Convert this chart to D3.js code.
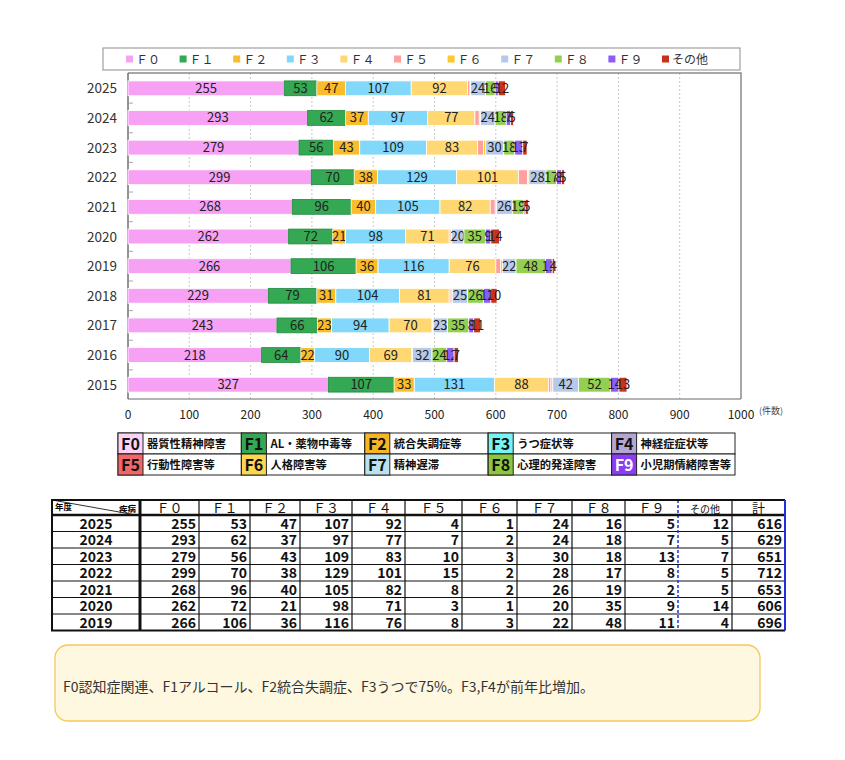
<!DOCTYPE html>
<html>
<head>
<meta charset="utf-8">
<script src="https://cdn.jsdelivr.net/npm/d3@7"></script>
<style>
  body { margin: 0; background: #fff; }
  svg { display: block; font-family: "Noto Sans CJK JP", "Noto Sans", sans-serif; }
</style>
</head>
<body>
<svg id="chart" width="845" height="760"></svg>
<script>
// data (件数, 年度ごと)
var years = ["2025","2024","2023","2022","2021","2020","2019","2018","2017","2016","2015"];
var F0 = [255,293,279,299,268,262,266,229,243,218,327];
var F1 = [53,62,56,70,96,72,106,79,66,64,107];
var F2 = [47,37,43,38,40,21,36,31,23,22,33];
var F3 = [107,97,109,129,105,98,116,104,94,90,131];
var F4 = [92,77,83,101,82,71,76,81,70,69,88];
var F5 = [4,7,10,15,8,3,8,3,1,1,4];
var F6 = [1,2,3,2,2,1,3,2,1,0,3];
var F7 = [24,24,30,28,26,20,22,25,23,32,42];
var F8 = [16,18,18,17,19,35,48,26,35,24,52];
var F9 = [5,7,13,8,2,9,11,12,8,12,14];
var other = [12,5,7,5,5,14,4,10,11,7,13];

var keys = ["F0","F1","F2","F3","F4","F5","F6","F7","F8","F9","other"];
var keyNames = ["Ｆ０","Ｆ１","Ｆ２","Ｆ３","Ｆ４","Ｆ５","Ｆ６","Ｆ７","Ｆ８","Ｆ９","その他"];
var colors = ["#f7a1f5","#34a853","#fbbc2c","#82d8fa","#ffd874","#ff9f9f","#ffc72c","#b6c9e9","#93d051","#8b5cf6","#c9311b"];
var xTicks = [0,100,200,300,400,500,600,700,800,900,1000];

// code legend
var codes = ["F0","F1","F2","F3","F4","F5","F6","F7","F8","F9"];
var codeLabels = ["器質性精神障害","AL・薬物中毒等","統合失調症等","うつ症状等","神経症症状等",
                  "行動性障害等","人格障害等","精神遅滞","心理的発達障害","小児期情緒障害等"];
var codeColors = ["#fbd3f7","#34a853","#f7b526","#74f4f4","#b3a6d2","#f26666","#ffd64f","#b9e1ee","#8cc63f","#8b3cf5"];

// table (2025-2019)
var tableYears = years.slice(0, 7);
var tableHead = ["Ｆ０","Ｆ１","Ｆ２","Ｆ３","Ｆ４","Ｆ５","Ｆ６","Ｆ７","Ｆ８","Ｆ９","その他","計"];

var note = "F0認知症関連、F1アルコール、F2統合失調症、F3うつで75%。F3,F4が前年比増加。";

var series = {F0:F0,F1:F1,F2:F2,F3:F3,F4:F4,F5:F5,F6:F6,F7:F7,F8:F8,F9:F9,other:other};
var rows = years.map(function(y, i) {
  var r = {year: y};
  keys.forEach(function(k) { r[k] = series[k][i]; });
  return r;
});

var svg = d3.select("#chart");

// ---- top legend
svg.append("rect").attr("x",103).attr("y",48).attr("width",637).attr("height",22)
  .attr("fill","#fff").attr("stroke","#a0a0a0").attr("stroke-width",1.2);
var lg = svg.append("g").selectAll("g").data(keys).enter().append("g")
  .attr("transform", function(d, i) { return "translate(" + (126 + i * 53.6) + ",59)"; });
lg.append("rect").attr("x",0).attr("y",-3.5).attr("width",7).attr("height",7)
  .attr("fill", function(d, i) { return colors[i]; });
lg.append("text").attr("x",10).attr("y",4.5).attr("font-size",12).attr("fill","#333")
  .text(function(d, i) { return keyNames[i]; });

// ---- bar chart
var x = d3.scaleLinear().domain([0,1000]).range([128,741]);
var y = d3.scaleBand().domain(years).range([73.5,399.5]).paddingInner(0.5).paddingOuter(0.25);

var plot = svg.append("g");
plot.selectAll("line.grid").data(xTicks.slice(1, -1)).enter().append("line")
  .attr("class","grid")
  .attr("x1", function(d) { return x(d); }).attr("x2", function(d) { return x(d); })
  .attr("y1",73).attr("y2",399)
  .attr("stroke","#c8c8c8").attr("stroke-dasharray","2,2");

// frame
plot.append("path").attr("d","M128,73H741V399")
  .attr("fill","none").attr("stroke","#8a8a8a").attr("stroke-width",1.5);
plot.append("line").attr("x1",128).attr("x2",741).attr("y1",399).attr("y2",399)
  .attr("stroke","#9a9a9a").attr("stroke-width",1.5);
plot.append("line").attr("x1",128).attr("x2",128).attr("y1",73).attr("y2",399)
  .attr("stroke","#707070").attr("stroke-width",1.5);

// small ticks between rows
var stepY = y.step();
plot.selectAll("line.tk").data(years.slice(1)).enter().append("line")
  .attr("x1",129).attr("x2",133)
  .attr("y1", function(d) { return y(d) - (stepY - y.bandwidth()) / 2; })
  .attr("y2", function(d) { return y(d) - (stepY - y.bandwidth()) / 2; })
  .attr("stroke","#aaa");

var stacked = d3.stack().keys(keys)(rows);

var layer = plot.selectAll("g.layer").data(stacked).enter().append("g")
  .attr("class","layer")
  .attr("fill", function(d, i) { return colors[i]; });

layer.selectAll("rect").data(function(d) { return d; }).enter().append("rect")
  .attr("x", function(d) { return x(d[0]); })
  .attr("y", function(d) { return y(d.data.year); })
  .attr("width", function(d) { return Math.max(0, x(d[1]) - x(d[0])); })
  .attr("height", y.bandwidth())
  .attr("stroke", function() { return d3.select(this.parentNode).datum().key == "F1" ? "#1f8a3c" : "#fff"; })
  .attr("stroke-width", 0.8);

// segment values (F5 and F6 have no labels in the original)
layer.filter(function(d) { return d.key != "F5" && d.key != "F6"; })
  .selectAll("text").data(function(d) { return d.filter(function(p) { return p[1] - p[0] > 0; }); })
  .enter().append("text")
  .attr("x", function(d) { return (x(d[0]) + x(d[1])) / 2; })
  .attr("y", function(d) { return y(d.data.year) + y.bandwidth() / 2 + 4.5; })
  .attr("text-anchor","middle").attr("font-size",13).attr("fill","#222")
  .text(function(d) { return d[1] - d[0]; });

// year labels
plot.selectAll("text.yl").data(years).enter().append("text")
  .attr("class","yl")
  .attr("x",102).attr("y", function(d) { return y(d) + y.bandwidth() / 2 + 5; })
  .attr("text-anchor","middle").attr("font-size",13.5).attr("fill","#333")
  .text(function(d) { return d; });

// x tick labels
plot.selectAll("text.xl").data(xTicks).enter().append("text")
  .attr("class","xl")
  .attr("x", function(d) { return x(d); }).attr("y",419)
  .attr("text-anchor","middle").attr("font-size",12).attr("fill","#222")
  .text(function(d) { return d; });
plot.append("text").attr("x",759).attr("y",414).attr("font-size",9).attr("fill","#444").text("(件数)");

// ---- code legend
var cl = svg.append("g").selectAll("g").data(codes).enter().append("g")
  .attr("transform", function(d, i) { return "translate(" + (118 + (i % 5) * 123.4) + "," + (433 + Math.floor(i / 5) * 21) + ")"; });
cl.append("rect").attr("width",123.4).attr("height",21).attr("fill","#fff").attr("stroke","#222");
cl.append("rect").attr("width",25).attr("height",21)
  .attr("fill", function(d, i) { return codeColors[i]; }).attr("stroke","#222");
cl.append("text").attr("x",12.5).attr("y",16.5).attr("text-anchor","middle")
  .attr("font-size",16).attr("font-weight","bold")
  .attr("fill", function(d) { return d == "F9" ? "#fff" : "#111"; })
  .text(function(d) { return d; });
cl.append("text").attr("x",29).attr("y",15).attr("font-size",11.3).attr("font-weight","bold").attr("fill","#111")
  .text(function(d, i) { return codeLabels[i]; });

// ---- table
var colEdges = [52,140,199,250,300,352,405,462,517,572,625,678,732,785];
var headTop = 500, headH = 15, rowH = 16.5;
var tb = svg.append("g");
var tableBottom = headTop + headH + rowH * tableYears.length;

tb.append("rect").attr("x",52).attr("y",headTop).attr("width",733).attr("height",tableBottom - headTop)
  .attr("fill","#fff");

// header
tb.selectAll("text.th").data(tableHead).enter().append("text")
  .attr("class","th")
  .attr("x", function(d, i) { return (colEdges[i + 1] + colEdges[i + 2]) / 2; })
  .attr("y", headTop + 12.5)
  .attr("text-anchor","middle")
  .attr("font-size", function(d) { return d.length > 2 ? 10 : 13; })
  .attr("fill","#111")
  .text(function(d) { return d; });
tb.append("text").attr("x",55).attr("y",headTop + 10).attr("font-size",8.5).attr("font-weight","bold").text("年度");
tb.append("text").attr("x",136).attr("y",headTop + 11.5).attr("text-anchor","end").attr("font-size",8.5).attr("font-weight","bold").text("疾病");
tb.append("line").attr("x1",52).attr("y1",headTop).attr("x2",136).attr("y2",headTop + headH).attr("stroke","#333");

// body
tableYears.forEach(function(yr, r) {
  var ty = headTop + headH + rowH * r;
  var vals = keys.map(function(k) { return series[k][r]; });
  vals.push(d3.sum(vals));
  tb.append("text").attr("x",(colEdges[0] + colEdges[1]) / 2).attr("y", ty + 13.5)
    .attr("text-anchor","middle").attr("font-size",14).attr("font-weight","bold").attr("fill","#111").text(yr);
  tb.selectAll(null).data(vals).enter().append("text")
    .attr("x", function(d, i) { return colEdges[i + 2] - 3; })
    .attr("y", ty + 13.5)
    .attr("text-anchor","end").attr("font-size",14).attr("font-weight","bold").attr("fill","#111")
    .text(function(d) { return d; });
  tb.append("line").attr("x1",52).attr("x2",785).attr("y1",ty + rowH).attr("y2",ty + rowH)
    .attr("stroke","#111").attr("stroke-width",1);
});

// grid lines
colEdges.slice(1, -1).forEach(function(cx, i) {
  var c = tb.append("line").attr("x1",cx).attr("x2",cx).attr("y1",headTop).attr("y2",tableBottom)
    .attr("stroke","#111").attr("stroke-width", i == 0 ? 3 : 1.2);
  if (cx == 678) c.attr("stroke","#1f2fe0").attr("stroke-dasharray","3,2").attr("stroke-width",1.5);
});
tb.append("line").attr("x1",52).attr("x2",785).attr("y1",headTop + headH).attr("y2",headTop + headH)
  .attr("stroke","#111").attr("stroke-width",2.5);
tb.append("path").attr("d","M785," + headTop + "H52V" + tableBottom + "H785")
  .attr("fill","none").attr("stroke","#111").attr("stroke-width",2);
tb.append("line").attr("x1",785).attr("x2",785).attr("y1",headTop).attr("y2",tableBottom)
  .attr("stroke","#1f2fe0").attr("stroke-width",2);

// ---- note box
svg.append("rect").attr("x",55).attr("y",645).attr("width",705).attr("height",76).attr("rx",13)
  .attr("fill","#fff8e1").attr("stroke","#f7c65a").attr("stroke-width",1.3);
svg.append("text").attr("x",63).attr("y",692).attr("font-size",14).attr("fill","#333").text(note);
</script>
</body>
</html>
